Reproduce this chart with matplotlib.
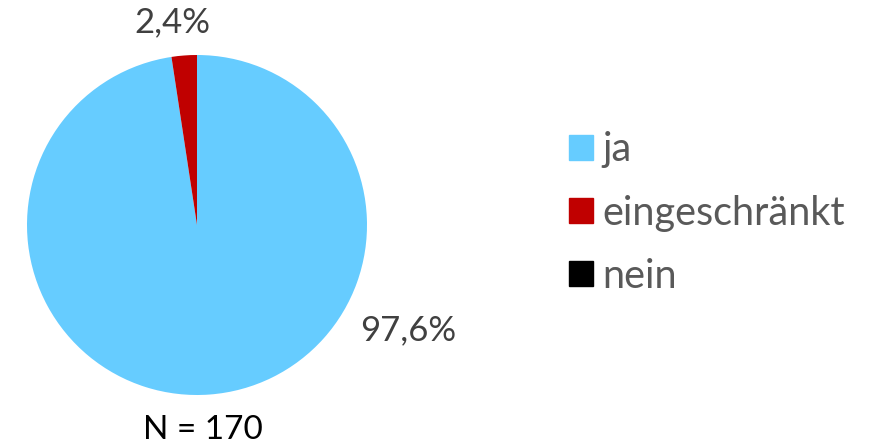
import matplotlib.pyplot as plt

plt.rcParams['font.family'] = ['Lato', 'DejaVu Sans']

# Data
categories = ['ja', 'eingeschränkt', 'nein']
shares = [97.6, 2.4, 0.0]
colors = ['#66CCFF', '#C00000', '#000000']
n_total = 170

fig = plt.figure(figsize=(8.75, 4.45), dpi=100)

# Pie axes: centre around (197, 225) px, radius ~170 px
ax = fig.add_axes([27 / 875, 50 / 445, 340 / 875, 340 / 445])
wedges, _ = ax.pie(shares, colors=colors, startangle=90, counterclock=False,
                   radius=1, wedgeprops=dict(linewidth=0))
ax.set_xlim(-1, 1)
ax.set_ylim(-1, 1)
ax.set_aspect('equal')
ax.axis('off')

# Data labels (Excel "best fit" positions)
label_pos = [(1.24, -0.62), (-0.145, 1.19)]
for (x, y), v in zip(label_pos, shares[:2]):
    ax.text(x, y, f'{v:.1f}%'.replace('.', ','), ha='center', va='center',
            fontsize=25, color='#404040', clip_on=False)

# Sample size
fig.text(203 / 875, 1 - 430 / 445, f'N = {n_total}', ha='center', va='center',
         fontsize=24, color='#000000')

# Legend
handles = [plt.Rectangle((0, 0), 1, 1, color=c) for c in colors]
fig.legend(handles, categories, loc='center left',
           bbox_to_anchor=(569 / 875, 1 - 213 / 445), frameon=False,
           borderpad=0, borderaxespad=0,
           fontsize=28.5, labelcolor='#595959', handlelength=0.6,
           handleheight=0.6, handletextpad=0.25, labelspacing=0.66)

fig.savefig('out.png', dpi=100)
